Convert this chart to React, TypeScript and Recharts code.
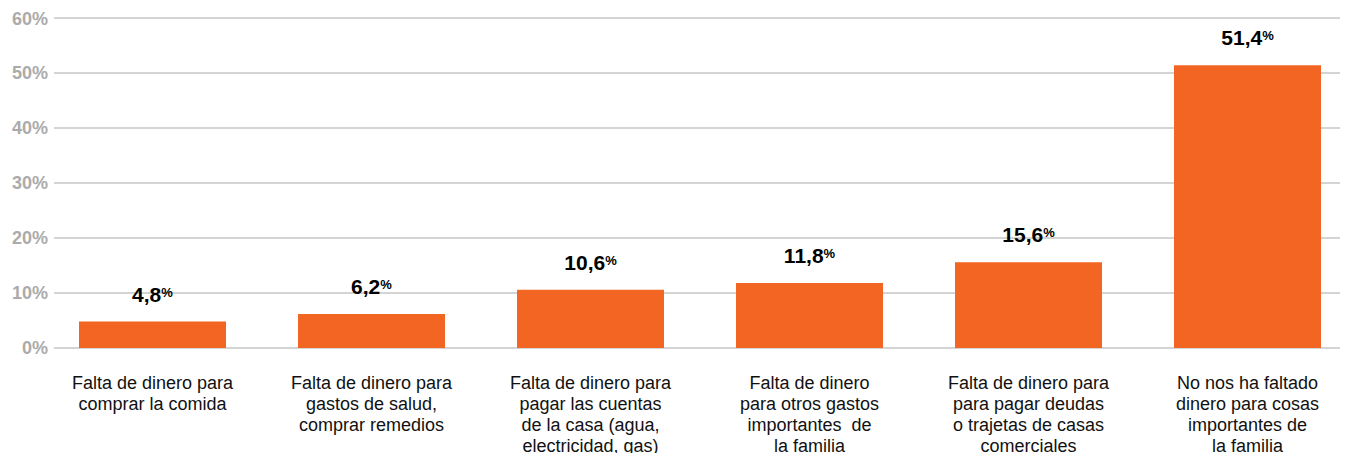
import { BarChart, Bar, XAxis, YAxis, CartesianGrid, LabelList } from 'recharts';

const categories = [
  'Falta de dinero para\ncomprar la comida',
  'Falta de dinero para\ngastos de salud,\ncomprar remedios',
  'Falta de dinero para\npagar las cuentas\nde la casa (agua,\nelectricidad, gas)',
  'Falta de dinero\npara otros gastos\nimportantes  de\nla familia',
  'Falta de dinero para\npara pagar deudas\no trajetas de casas\ncomerciales',
  'No nos ha faltado\ndinero para cosas\nimportantes de\nla familia',
];

const values = [4.8, 6.2, 10.6, 11.8, 15.6, 51.4];

const yTicks = [0, 10, 20, 30, 40, 50, 60];

const data = categories.map((name, i) => ({ name, value: values[i] }));

const FONT = '"Liberation Sans", Arial, sans-serif';

function CategoryTick({ x, y, payload }: any) {
  const lines = String(payload.value).split('\n');
  return (
    <text x={x} y={y + 41} textAnchor="middle" fontFamily={FONT} fontSize={18} fill="#111">
      {lines.map((line, i) => (
        <tspan key={i} x={x} dy={i === 0 ? 0 : 21} style={{ whiteSpace: 'pre' }}>
          {line}
        </tspan>
      ))}
    </text>
  );
}

function ValueLabel({ x, y, width, value }: any) {
  const cx = x + width / 2;
  return (
    <text x={cx} y={y - 20} textAnchor="middle" fontFamily={FONT} fontWeight="bold" fill="#000">
      <tspan fontSize={21}>{Number(value).toFixed(1).replace('.', ',')}</tspan>
      <tspan fontSize={13} dy={-5}>%</tspan>
    </text>
  );
}

export default function App() {
  return (
    <div style={{ width: 1340, height: 445 }}>
      <BarChart
        width={1340}
        height={445}
        data={data}
        margin={{ top: 10, right: 0, bottom: 0, left: 0 }}
        barCategoryGap={0}
      >
        <CartesianGrid vertical={false} stroke="#c6c6c6" strokeWidth={1.3} />
        <XAxis
          dataKey="name"
          interval={0}
          height={105}
          axisLine={false}
          tickLine={false}
          tickSize={0}
          tickMargin={0}
          padding={{ left: -11, right: -9 }}
          tick={<CategoryTick />}
        />
        <YAxis
          domain={[0, 60]}
          ticks={yTicks}
          width={46}
          axisLine={false}
          tickLine={false}
          tickSize={0}
          tickMargin={6}
          tickFormatter={(v: number) => `${v}%`}
          tick={{ fill: '#ababab', fontSize: 18, fontWeight: 'bold', fontFamily: FONT }}
        />
        <Bar dataKey="value" fill="#F26522" barSize={147} isAnimationActive={false}>
          <LabelList dataKey="value" content={<ValueLabel />} />
        </Bar>
      </BarChart>
    </div>
  );
}
